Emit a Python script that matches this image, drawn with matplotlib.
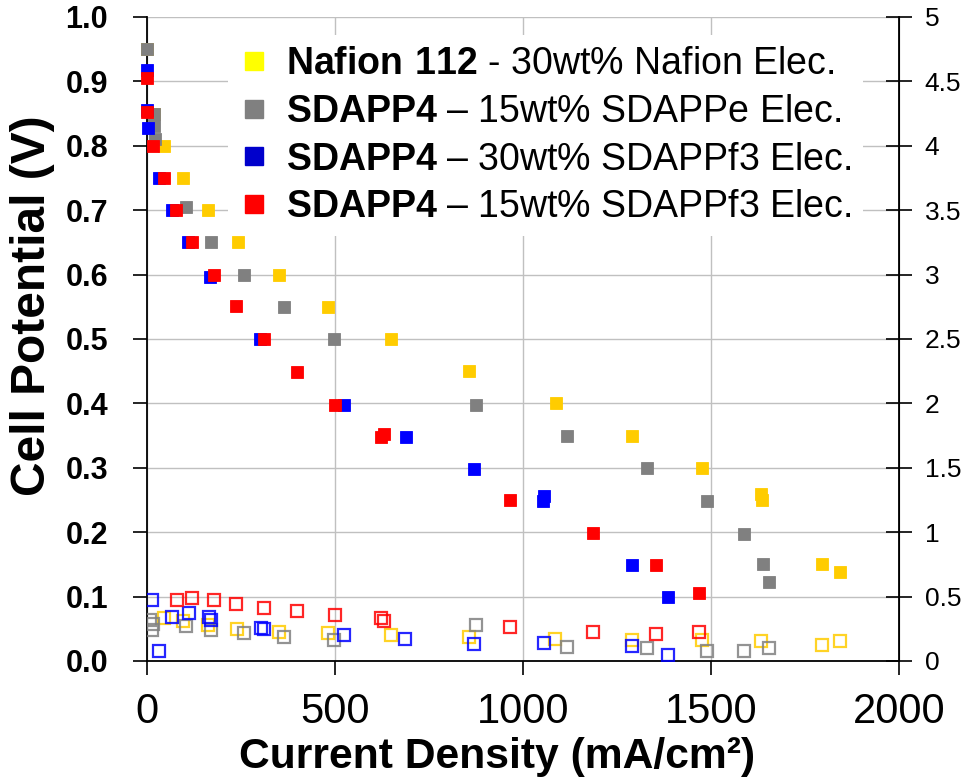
import numpy as np
import matplotlib
matplotlib.use("Agg")
import matplotlib.pyplot as plt
from matplotlib.lines import Line2D

plt.rcParams['font.family'] = ['Liberation Sans', 'DejaVu Sans']
plt.rcParams['mathtext.fontset'] = 'custom'
plt.rcParams['mathtext.rm'] = 'Liberation Sans'
plt.rcParams['mathtext.bf'] = 'Liberation Sans:bold'

# cell potential (V) vs current density (mA/cm2)
nafion_x = [0, 19, 45, 95, 162, 241, 352, 481, 650, 857, 1088, 1289, 1477, 1634, 1636, 1796, 1843]
nafion_v = [0.95, 0.85, 0.80, 0.75, 0.70, 0.65, 0.60, 0.55, 0.50, 0.45, 0.40, 0.35, 0.30, 0.26, 0.25, 0.15, 0.1375]
sdappe_x = [0, 19, 19, 20, 103, 170, 257, 364, 498, 875, 1116, 1329, 1489, 1589, 1639, 1655]
sdappe_v = [0.95, 0.85, 0.83, 0.81, 0.705, 0.65, 0.60, 0.55, 0.50, 0.397, 0.35, 0.30, 0.248, 0.197, 0.15, 0.122]
f3_30_x = [0, 0, 2, 32, 66, 109, 167, 300, 525, 690, 870, 1053, 1056, 1289, 1385]
f3_30_v = [0.918, 0.856, 0.827, 0.75, 0.70, 0.65, 0.596, 0.50, 0.397, 0.348, 0.298, 0.248, 0.256, 0.149, 0.10]
f3_15_x = [0, 0, 16, 45, 77, 119, 178, 236, 310, 398, 501, 623, 631, 965, 1186, 1355, 1467]
f3_15_v = [0.905, 0.852, 0.80, 0.75, 0.70, 0.65, 0.60, 0.551, 0.50, 0.449, 0.398, 0.348, 0.353, 0.25, 0.198, 0.149, 0.106]

# right axis values (open symbols)
nafion_ox = [45, 95, 162, 239, 352, 481, 650, 857, 1085, 1289, 1477, 1634, 1796, 1843]
nafion_r = [0.33, 0.307, 0.276, 0.25, 0.229, 0.216, 0.198, 0.185, 0.174, 0.164, 0.164, 0.156, 0.125, 0.156]
sdappe_ox = [9, 17, 14, 103, 170, 257, 364, 498, 875, 1116, 1329, 1489, 1589, 1655]
sdappe_r = [0.315, 0.29, 0.24, 0.27, 0.24, 0.22, 0.19, 0.164, 0.28, 0.11, 0.10, 0.08, 0.08, 0.10]
f3_30_ox = [13, 32, 66, 111, 164, 170, 302, 310, 525, 687, 870, 1056, 1289, 1385]
f3_30_r = [0.477, 0.08, 0.34, 0.37, 0.34, 0.32, 0.26, 0.25, 0.20, 0.17, 0.13, 0.14, 0.12, 0.05]
f3_15_ox = [79, 119, 178, 236, 310, 398, 501, 623, 631, 965, 1186, 1355, 1467]
f3_15_r = [0.477, 0.49, 0.47, 0.445, 0.414, 0.39, 0.36, 0.33, 0.31, 0.265, 0.227, 0.21, 0.227]

labels = [r"$\mathbf{Nafion\ 112}$ - 30wt% Nafion Elec.",
          r"$\mathbf{SDAPP4}$ – 15wt% SDAPPe Elec.",
          r"$\mathbf{SDAPP4}$ – 30wt% SDAPPf3 Elec.",
          r"$\mathbf{SDAPP4}$ – 15wt% SDAPPf3 Elec."]
plot_colors = ['#FFCC00', '#808080', '#0000FF', '#FF0000']
legend_colors = ['#FFFF00', '#808080', '#0000CC', '#FF0000']

fig = plt.figure(figsize=(9.62, 7.8), dpi=100)
ax = fig.add_axes([147/962, 1 - 661/780, 752/962, 644/780])
ax2 = ax.twinx()

filled = [(nafion_x, nafion_v), (sdappe_x, sdappe_v), (f3_30_x, f3_30_v), (f3_15_x, f3_15_v)]
opened = [(nafion_ox, nafion_r), (sdappe_ox, sdappe_r), (f3_30_ox, f3_30_r), (f3_15_ox, f3_15_r)]
for (x, y), c in zip(filled, plot_colors):
    ax.plot(x, y, 's', color=c, markersize=8.8, markeredgewidth=0.6,
            markeredgecolor=c, zorder=3, clip_on=False)
for (x, y), c in zip(opened, plot_colors):
    ax2.plot(x, y, 's', markerfacecolor='none', markeredgecolor=c,
             markersize=8.3, markeredgewidth=1.6, alpha=0.85)

ax.set_xlim(0, 2000)
ax.set_ylim(0, 1.0)
ax2.set_ylim(0, 5)
ax.set_xticks([0, 500, 1000, 1500, 2000])
ax.set_yticks(np.arange(0, 1.01, 0.1))
ax.set_yticklabels([f"{v:.1f}" for v in np.arange(0, 1.01, 0.1)])
ax2.set_yticks(np.arange(0, 5.01, 0.5))
ax2.set_yticklabels([f"{v:g}" for v in np.arange(0, 5.01, 0.5)])

ax.grid(True, color='#C0C0C0', linewidth=1.0, zorder=0)
ax.set_axisbelow(True)
for a in (ax, ax2):
    a.spines['top'].set_visible(False)
ax.spines['left'].set_linewidth(1.3)
ax.spines['bottom'].set_linewidth(1.3)
ax2.spines['right'].set_linewidth(1.3)
ax2.spines['left'].set_visible(False)
ax2.spines['bottom'].set_visible(False)

ax.tick_params(axis='y', direction='out', length=10, width=1.2, pad=18, labelsize=22)
ax.tick_params(axis='x', direction='out', length=10, width=1.2, pad=12, labelsize=30)
for t in ax.get_yticklabels():
    t.set_fontweight('bold')
ax2.tick_params(axis='y', direction='inout', length=19, width=1.2, pad=9, labelsize=19)

handles = [Line2D([], [], marker='s', ls='none', color=c, markersize=13) for c in legend_colors]
leg = ax.legend(handles, labels, loc='upper left', bbox_to_anchor=(0.108, 0.972),
                borderaxespad=0, fontsize=27, handlelength=0.8, handletextpad=0.45,
                labelspacing=0.31, frameon=True, facecolor='white', edgecolor='none',
                framealpha=1, borderpad=0.3)
leg.set_zorder(2)

fig.text(497/962, 1 - 757/780, "Current Density (mA/cm²)", fontsize=30.7,
         fontweight='bold', ha='center', va='center')
fig.text(33/962, 1 - 306/780, "Cell Potential (V)", fontsize=34.5,
         fontweight='bold', ha='center', va='center', rotation=90)

fig.savefig("out.png", dpi=100)
